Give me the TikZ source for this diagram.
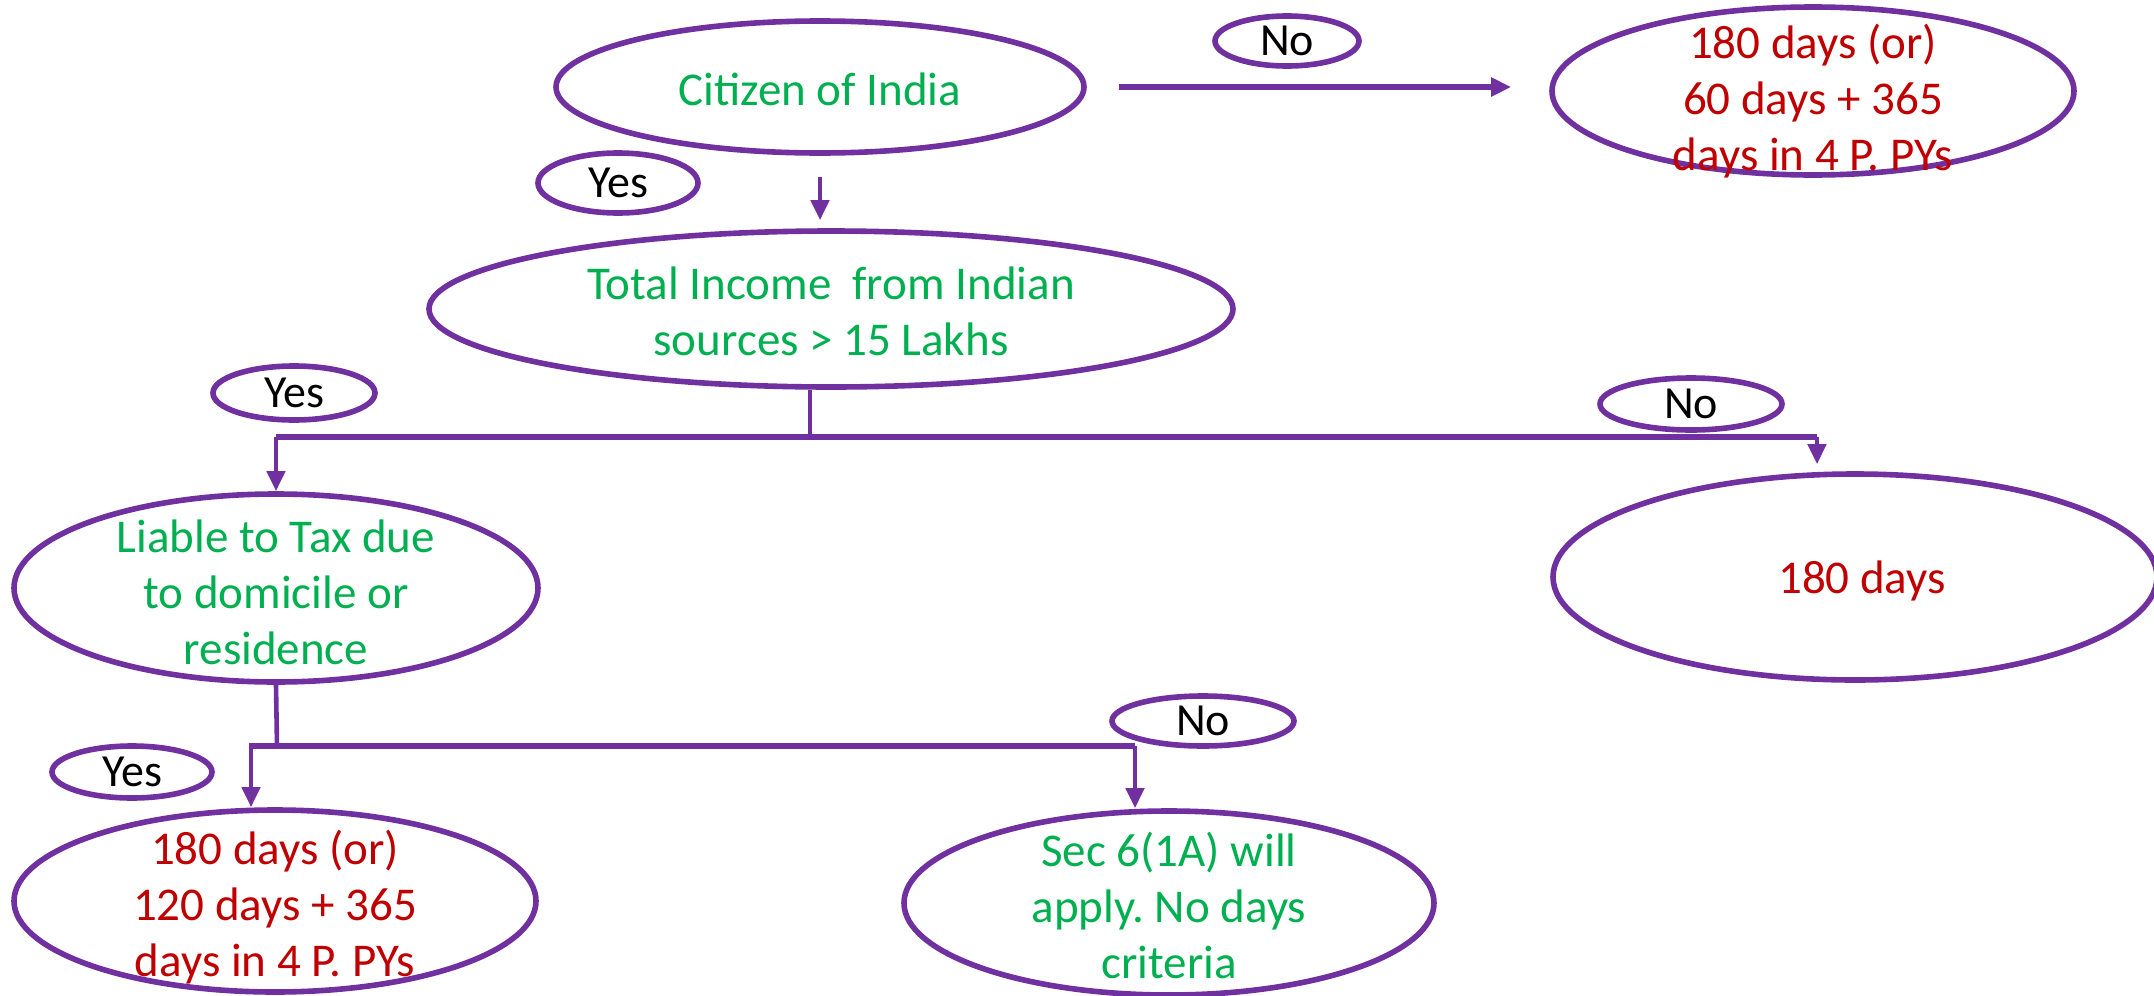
\documentclass[tikz,border=0pt]{standalone}
\usepackage{fontspec}
\setmainfont{Carlito}
\usetikzlibrary{shapes.geometric,arrows.meta}
\definecolor{ppl}{HTML}{7030A0}
\definecolor{grn}{HTML}{00B050}
\definecolor{drd}{HTML}{C00000}
\frenchspacing
\begin{document}
\begin{tikzpicture}[x=0.5pt,y=-0.5pt,
  ell/.style={ellipse,draw=ppl,line width=2.8pt,fill=white,inner sep=0pt},
  lbl/.style={ellipse,draw=ppl,line width=2.8pt,fill=white,inner sep=0pt,font=\fontsize{23}{28}\selectfont,text=black},
  txt/.style={align=center,inner sep=0pt,font=\fontsize{23.5}{28}\selectfont},
  conn/.style={draw=ppl,line width=2.3pt},
  tip/.style={-{Triangle[length=10pt,width=9pt]}}
]
\useasboundingbox (0,0) rectangle (2154,996);
% main ellipses
\node[ell,minimum width=264pt,minimum height=66pt] (cit) at (820,87) {};
\node[txt,text=grn] (citT) at (820,89) {Citizen of India};
\node[ell,minimum width=261pt,minimum height=84pt] (r1) at (1813,91) {};
\node[txt,text=drd] (r1T) at (1813,101) {180 days (or)\\60 days + 365\\days in 4 P. PYs};
\node[ell,minimum width=402pt,minimum height=78pt] (tot) at (831,309) {};
\node[txt,text=grn] (totT) at (831,311) {Total Income\ \ from Indian\\sources > 15 Lakhs};
\node[ell,minimum width=262pt,minimum height=94pt] (lia) at (276,588) {};
\node[txt,text=grn] (liaT) at (276,592) {Liable to Tax due\\to domicile or\\residence};
\node[ell,minimum width=302pt,minimum height=103pt] (d180) at (1855,577) {};
\node[txt,text=drd] (d180T) at (1862,581) {180 days};
\node[ell,minimum width=261pt,minimum height=91pt] (yb) at (275,901) {};
\node[txt,text=drd] (ybT) at (275,907) {180 days (or)\\120 days + 365\\days in 4 P. PYs};
\node[ell,minimum width=265pt,minimum height=92pt] (sec) at (1169,903) {};
\node[txt,text=grn] (secT) at (1169,905) {Sec 6(1A) will\\apply. No days\\criteria};
% yes / no labels
\node[lbl,minimum width=72pt,minimum height=25pt] (no1) at (1287,41) {No};
\node[lbl,minimum width=80pt,minimum height=30pt] (yes1) at (618,183) {Yes};
\node[lbl,minimum width=81pt,minimum height=27pt] (yes2) at (294,393) {Yes};
\node[lbl,minimum width=91pt,minimum height=26pt] (no2) at (1691,404) {No};
\node[lbl,minimum width=80pt,minimum height=26pt] (yes3) at (132,772) {Yes};
\node[lbl,minimum width=91pt,minimum height=25pt] (no3) at (1203,721) {No};
% connectors
\draw[conn,line width=3pt,tip,shorten <=16pt,shorten >=19pt] (cit.east) -- (cit.east -| r1.west);
\draw[conn,tip,shorten <=10.5pt,shorten >=4pt] (cit.south) -- (cit.south |- tot.north);
\coordinate (j1) at (810,437);
\coordinate (j1l) at (276,437);
\coordinate (j1r) at (1817,437);
\draw[conn] (tot.south -| j1) -- (j1);
\draw[conn,line width=2.6pt] (j1l) -- (j1r);
\draw[conn,tip] (j1l) -- (lia.north);
\draw[conn,tip,shorten >=3.5pt] (j1r) -- (j1r |- d180.north);
\coordinate (j2) at (277,746);
\coordinate (j2l) at (249,746);
\coordinate (j2r) at (1135,746);
\draw[conn] (lia.south) -- (j2);
\draw[conn,line width=2.8pt] (j2l) -- (j2r);
\draw[conn,tip] (j2l -| yb.north) ++(-24,0) coordinate (j2a) -- (j2a |- yb.north);
\draw[conn,tip] (j2r) -- (j2r |- sec.north);
\end{tikzpicture}
\end{document}
